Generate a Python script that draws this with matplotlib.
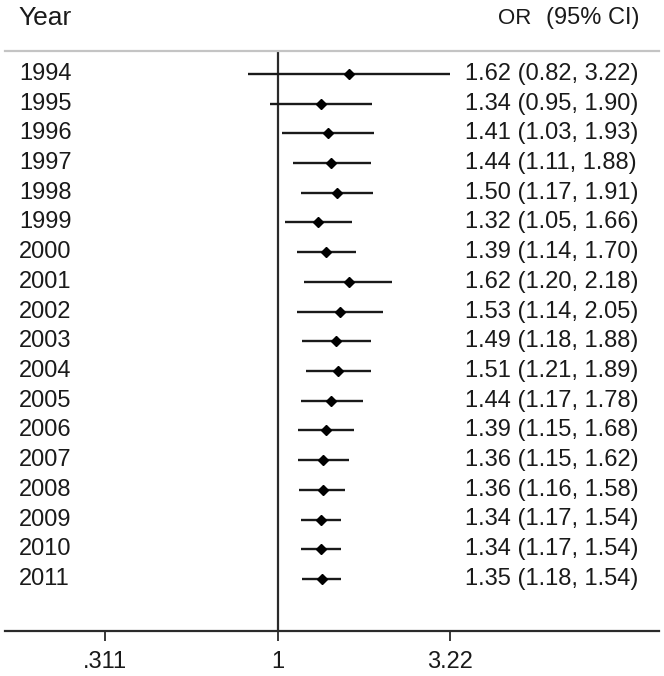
import matplotlib
matplotlib.use("Agg")
import matplotlib.pyplot as plt
import matplotlib.transforms as mtrans
import numpy as np

years = ["1994", "1995", "1996", "1997", "1998", "1999", "2000", "2001", "2002",
         "2003", "2004", "2005", "2006", "2007", "2008", "2009", "2010", "2011"]
or_vals = [1.62, 1.34, 1.41, 1.44, 1.50, 1.32, 1.39, 1.62, 1.53,
           1.49, 1.51, 1.44, 1.39, 1.36, 1.36, 1.34, 1.34, 1.35]
ci_low = [0.82, 0.95, 1.03, 1.11, 1.17, 1.05, 1.14, 1.20, 1.14,
          1.18, 1.21, 1.17, 1.15, 1.15, 1.16, 1.17, 1.17, 1.18]
ci_high = [3.22, 1.90, 1.93, 1.88, 1.91, 1.66, 1.70, 2.18, 2.05,
           1.88, 1.89, 1.78, 1.68, 1.62, 1.58, 1.54, 1.54, 1.54]
tick_vals = [0.311, 1, 3.22]
tick_labels = [".311", "1", "3.22"]

plt.rcParams['font.family'] = ['Liberation Sans', 'DejaVu Sans']
W, H = 664, 676
fig = plt.figure(figsize=(W / 100, H / 100), dpi=100)
fig.patch.set_facecolor("white")

# axes: x 5..659 px, y 51..631 px
ax = fig.add_axes([5 / W, (H - 631) / H, 654 / W, 580 / H])
ax.set_xscale("log")
k = 147.5
xmin = np.exp((5 - 277.5) / k)
xmax = np.exp((659 - 277.5) / k)
ax.set_xlim(xmin, xmax)
sp = 29.7
ax.set_ylim((631 - 74) / sp, (51 - 74) / sp)

col = "#1a1a1a"
blend = mtrans.blended_transform_factory(ax.transAxes, ax.transData)
ax.axvline(1, color="#2a2a2a", lw=1.6, zorder=1)
for i in range(len(years)):
    ax.plot([ci_low[i], ci_high[i]], [i, i], color=col, lw=1.7, solid_capstyle="butt", zorder=2)
    ax.plot(or_vals[i], i, marker="D", ms=5, color="black", zorder=3)
    ax.text((19 - 5) / 654, i, years[i], transform=blend,
            ha="left", va="center", fontsize=17, color=col)
    ax.text((465 - 5) / 654, i, f"{or_vals[i]:.2f} ({ci_low[i]:.2f}, {ci_high[i]:.2f})",
            transform=blend, ha="left", va="center", fontsize=17, color=col)

for s in ["left", "right"]:
    ax.spines[s].set_visible(False)
ax.spines["top"].set_color("#c4c4c4")
ax.spines["top"].set_linewidth(1.6)
ax.spines["bottom"].set_color("#2a2a2a")
ax.spines["bottom"].set_linewidth(1.6)
ax.set_yticks([])
ax.set_xticks(tick_vals)
ax.set_xticklabels(tick_labels)
ax.xaxis.set_minor_locator(matplotlib.ticker.NullLocator())
ax.tick_params(axis="x", length=7.5, width=1.3, color="#2a2a2a", labelsize=17,
               labelcolor=col, pad=7)

fig.text(18 / W, 1 - 18 / H, "Year", ha="left", va="center", fontsize=19, color=col)
fig.text(498 / W, 1 - 18 / H, "OR", ha="left", va="center", fontsize=16, color=col)
fig.text(546 / W, 1 - 18 / H, "(95% CI)", ha="left", va="center", fontsize=17, color=col)

fig.savefig("out.png", dpi=100, facecolor="white")
